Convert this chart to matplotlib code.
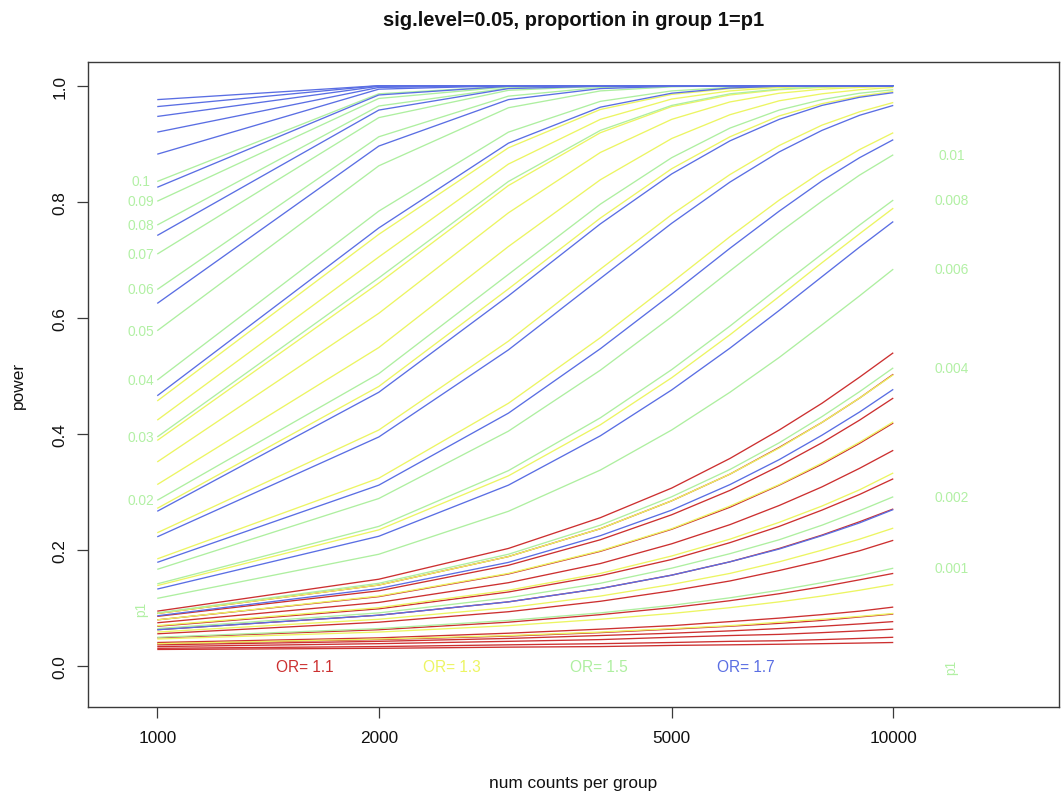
import matplotlib
matplotlib.use("Agg")
import matplotlib.pyplot as plt
from matplotlib.ticker import NullLocator

plt.rcParams['font.family'] = ['Liberation Sans', 'DejaVu Sans']

# ---------------- data ----------------
n_counts = [1000, 2000, 3000, 4000, 5000, 6000, 7000, 8000, 9000, 10000]
p1_values = [0.001, 0.002, 0.004, 0.006, 0.008, 0.01,
             0.02, 0.03, 0.04, 0.05, 0.06, 0.07, 0.08, 0.09, 0.1]
or_values = [1.1, 1.3, 1.5, 1.7]

# power for each p1 (rows) at each n (columns)
power_or_1_1 = [
    [0.029, 0.031, 0.033, 0.034, 0.036, 0.037, 0.038, 0.039, 0.040, 0.041],
    [0.031, 0.034, 0.037, 0.039, 0.041, 0.043, 0.044, 0.046, 0.048, 0.050],
    [0.034, 0.039, 0.043, 0.046, 0.050, 0.053, 0.055, 0.058, 0.061, 0.064],
    [0.037, 0.043, 0.048, 0.053, 0.057, 0.061, 0.065, 0.069, 0.073, 0.077],
    [0.039, 0.046, 0.052, 0.058, 0.064, 0.069, 0.074, 0.079, 0.085, 0.090],
    [0.041, 0.049, 0.057, 0.064, 0.070, 0.077, 0.083, 0.089, 0.095, 0.102],
    [0.049, 0.063, 0.076, 0.089, 0.101, 0.113, 0.125, 0.137, 0.149, 0.160],
    [0.056, 0.076, 0.094, 0.112, 0.130, 0.147, 0.165, 0.182, 0.199, 0.217],
    [0.063, 0.088, 0.111, 0.134, 0.157, 0.180, 0.203, 0.226, 0.249, 0.271],
    [0.069, 0.099, 0.128, 0.156, 0.184, 0.213, 0.241, 0.269, 0.296, 0.323],
    [0.075, 0.110, 0.144, 0.177, 0.211, 0.244, 0.277, 0.309, 0.341, 0.372],
    [0.080, 0.120, 0.159, 0.198, 0.236, 0.274, 0.312, 0.348, 0.384, 0.419],
    [0.086, 0.130, 0.174, 0.218, 0.261, 0.303, 0.345, 0.385, 0.424, 0.462],
    [0.091, 0.140, 0.189, 0.237, 0.285, 0.331, 0.377, 0.420, 0.462, 0.503],
    [0.095, 0.150, 0.203, 0.256, 0.307, 0.358, 0.407, 0.453, 0.498, 0.540],
]
power_or_1_3 = [
    [0.039, 0.047, 0.053, 0.059, 0.065, 0.070, 0.076, 0.081, 0.086, 0.091],
    [0.047, 0.059, 0.070, 0.081, 0.091, 0.101, 0.111, 0.121, 0.131, 0.141],
    [0.059, 0.081, 0.101, 0.121, 0.141, 0.160, 0.180, 0.200, 0.219, 0.238],
    [0.070, 0.101, 0.131, 0.160, 0.190, 0.219, 0.248, 0.276, 0.304, 0.333],
    [0.080, 0.121, 0.160, 0.199, 0.237, 0.276, 0.313, 0.350, 0.386, 0.421],
    [0.091, 0.140, 0.189, 0.237, 0.285, 0.331, 0.376, 0.420, 0.462, 0.502],
    [0.139, 0.235, 0.328, 0.416, 0.497, 0.571, 0.637, 0.695, 0.745, 0.789],
    [0.185, 0.324, 0.453, 0.566, 0.661, 0.740, 0.803, 0.852, 0.890, 0.919],
    [0.230, 0.407, 0.560, 0.684, 0.778, 0.847, 0.897, 0.932, 0.955, 0.971],
    [0.272, 0.482, 0.650, 0.772, 0.857, 0.912, 0.948, 0.969, 0.982, 0.990],
    [0.313, 0.549, 0.723, 0.838, 0.909, 0.950, 0.974, 0.986, 0.993, 0.997],
    [0.352, 0.608, 0.781, 0.885, 0.942, 0.972, 0.987, 0.994, 0.997, 0.999],
    [0.389, 0.660, 0.828, 0.919, 0.964, 0.984, 0.993, 0.997, 0.999, 1.000],
    [0.424, 0.705, 0.865, 0.942, 0.977, 0.991, 0.997, 0.999, 1.000, 1.000],
    [0.457, 0.744, 0.893, 0.959, 0.985, 0.995, 0.998, 0.999, 1.000, 1.000],
]
power_or_1_5 = [
    [0.050, 0.065, 0.079, 0.092, 0.105, 0.118, 0.131, 0.144, 0.156, 0.169],
    [0.065, 0.092, 0.118, 0.143, 0.169, 0.194, 0.218, 0.243, 0.268, 0.292],
    [0.092, 0.143, 0.193, 0.243, 0.292, 0.339, 0.385, 0.430, 0.473, 0.514],
    [0.117, 0.193, 0.267, 0.338, 0.407, 0.472, 0.532, 0.588, 0.638, 0.684],
    [0.142, 0.241, 0.337, 0.428, 0.511, 0.586, 0.653, 0.710, 0.760, 0.803],
    [0.167, 0.289, 0.405, 0.510, 0.602, 0.681, 0.747, 0.801, 0.846, 0.881],
    [0.286, 0.504, 0.675, 0.796, 0.876, 0.927, 0.958, 0.976, 0.987, 0.993],
    [0.395, 0.669, 0.835, 0.923, 0.966, 0.986, 0.994, 0.998, 0.999, 1.000],
    [0.493, 0.784, 0.920, 0.973, 0.991, 0.997, 0.999, 1.000, 1.000, 1.000],
    [0.578, 0.862, 0.962, 0.991, 0.998, 1.000, 1.000, 1.000, 1.000, 1.000],
    [0.649, 0.912, 0.982, 0.997, 0.999, 1.000, 1.000, 1.000, 1.000, 1.000],
    [0.710, 0.945, 0.992, 0.999, 1.000, 1.000, 1.000, 1.000, 1.000, 1.000],
    [0.760, 0.965, 0.996, 1.000, 1.000, 1.000, 1.000, 1.000, 1.000, 1.000],
    [0.801, 0.978, 0.998, 1.000, 1.000, 1.000, 1.000, 1.000, 1.000, 1.000],
    [0.835, 0.986, 0.999, 1.000, 1.000, 1.000, 1.000, 1.000, 1.000, 1.000],
]
power_or_1_7 = [
    [0.063, 0.088, 0.111, 0.134, 0.157, 0.180, 0.202, 0.225, 0.247, 0.270],
    [0.087, 0.134, 0.179, 0.225, 0.269, 0.313, 0.356, 0.398, 0.438, 0.477],
    [0.133, 0.224, 0.312, 0.397, 0.476, 0.548, 0.613, 0.671, 0.722, 0.766],
    [0.179, 0.312, 0.436, 0.547, 0.641, 0.720, 0.784, 0.836, 0.876, 0.907],
    [0.223, 0.395, 0.545, 0.668, 0.763, 0.834, 0.886, 0.923, 0.949, 0.966],
    [0.267, 0.472, 0.638, 0.762, 0.848, 0.905, 0.942, 0.966, 0.980, 0.988],
    [0.466, 0.755, 0.901, 0.963, 0.987, 0.996, 0.999, 1.000, 1.000, 1.000],
    [0.625, 0.896, 0.976, 0.995, 0.999, 1.000, 1.000, 1.000, 1.000, 1.000],
    [0.742, 0.958, 0.995, 0.999, 1.000, 1.000, 1.000, 1.000, 1.000, 1.000],
    [0.825, 0.984, 0.999, 1.000, 1.000, 1.000, 1.000, 1.000, 1.000, 1.000],
    [0.882, 0.994, 1.000, 1.000, 1.000, 1.000, 1.000, 1.000, 1.000, 1.000],
    [0.920, 0.997, 1.000, 1.000, 1.000, 1.000, 1.000, 1.000, 1.000, 1.000],
    [0.947, 0.999, 1.000, 1.000, 1.000, 1.000, 1.000, 1.000, 1.000, 1.000],
    [0.964, 1.000, 1.000, 1.000, 1.000, 1.000, 1.000, 1.000, 1.000, 1.000],
    [0.976, 1.000, 1.000, 1.000, 1.000, 1.000, 1.000, 1.000, 1.000, 1.000],
]

x_ticks = [1000, 2000, 5000, 10000]
x_tick_labels = ["1000", "2000", "5000", "10000"]
y_ticks = [0.0, 0.2, 0.4, 0.6, 0.8, 1.0]
y_tick_labels = ["0.0", "0.2", "0.4", "0.6", "0.8", "1.0"]

left_label_p1 = [0.02, 0.03, 0.04, 0.05, 0.06, 0.07, 0.08, 0.09, 0.1]
right_label_p1 = [0.001, 0.002, 0.004, 0.006, 0.008, 0.01]
or_label_x = [1585, 2512, 3981, 6310]

# ---------------- style ----------------
or_colors = ['#CC3030', '#ECF562', '#AEEFA0', '#5A6EE3']
label_green = '#B2F0A4'
axis_color = '#3a3a3a'

W, H = 1062, 803
fig = plt.figure(figsize=(W / 100, H / 100), dpi=100)
fig.patch.set_facecolor('white')
ax = fig.add_axes([88 / W, 1 - 708.3 / H, (1059 - 88) / W, (708.3 - 62.7) / H])

all_powers = [power_or_1_1, power_or_1_3, power_or_1_5, power_or_1_7]
for powers, col in zip(all_powers, or_colors):
    for row in powers:
        ax.plot(n_counts, row, color=col, lw=0.95, solid_capstyle='butt')

ax.set_xscale('log')
ax.set_xlim(805.2, 16795)
ax.set_ylim(-0.0706, 1.0413)
ax.set_xticks(x_ticks)
ax.set_xticklabels(x_tick_labels)
ax.xaxis.set_minor_locator(NullLocator())
ax.set_yticks(y_ticks)
ax.set_yticklabels(y_tick_labels)

for sp in ax.spines.values():
    sp.set_color(axis_color)
    sp.set_linewidth(1.0)
ax.tick_params(axis='both', direction='out', length=7.6, width=0.9,
               color=axis_color, labelsize=12.4, labelcolor='#111111')
ax.tick_params(axis='x', pad=8.4)
ax.tick_params(axis='y', pad=7.4)
for lab in ax.get_yticklabels():
    lab.set_rotation(90)
    lab.set_va('center')
    lab.set_ha('right')

# p1 labels on the OR=1.5 curves
green_powers = dict(zip(p1_values, power_or_1_5))
for p in left_label_p1:
    ax.text(950, green_powers[p][0], f"{p:g}", color=label_green,
            fontsize=9.9, ha='center', va='center')
for p in right_label_p1:
    ax.text(12000, green_powers[p][-1], f"{p:g}", color=label_green,
            fontsize=9.9, ha='center', va='center')
ax.text(950, 0.10, "p1", color=label_green, fontsize=9.9, rotation=90,
        ha='center', va='center')
ax.text(12000, 0.0, "p1", color=label_green, fontsize=9.9, rotation=90,
        ha='center', va='center')

for xpos, orv, col in zip(or_label_x, or_values, or_colors):
    ax.text(xpos, 0.0, f"OR= {orv}", color=col, fontsize=11.2,
            ha='center', va='center')

fig.text(573.5 / W, 1 - 25.5 / H, "sig.level=0.05, proportion in group 1=p1",
         ha='center', va='baseline', fontsize=14.5, fontweight='bold',
         color='#111111')
fig.text(573.5 / W, 1 - 784 / H, "num counts per group", ha='center',
         va='center', fontsize=12.4, color='#111111')
fig.text(18 / W, 1 - 385.5 / H, "power", ha='center', va='center',
         rotation=90, fontsize=12.4, color='#111111')

fig.savefig("out.png", dpi=100, facecolor='white')
